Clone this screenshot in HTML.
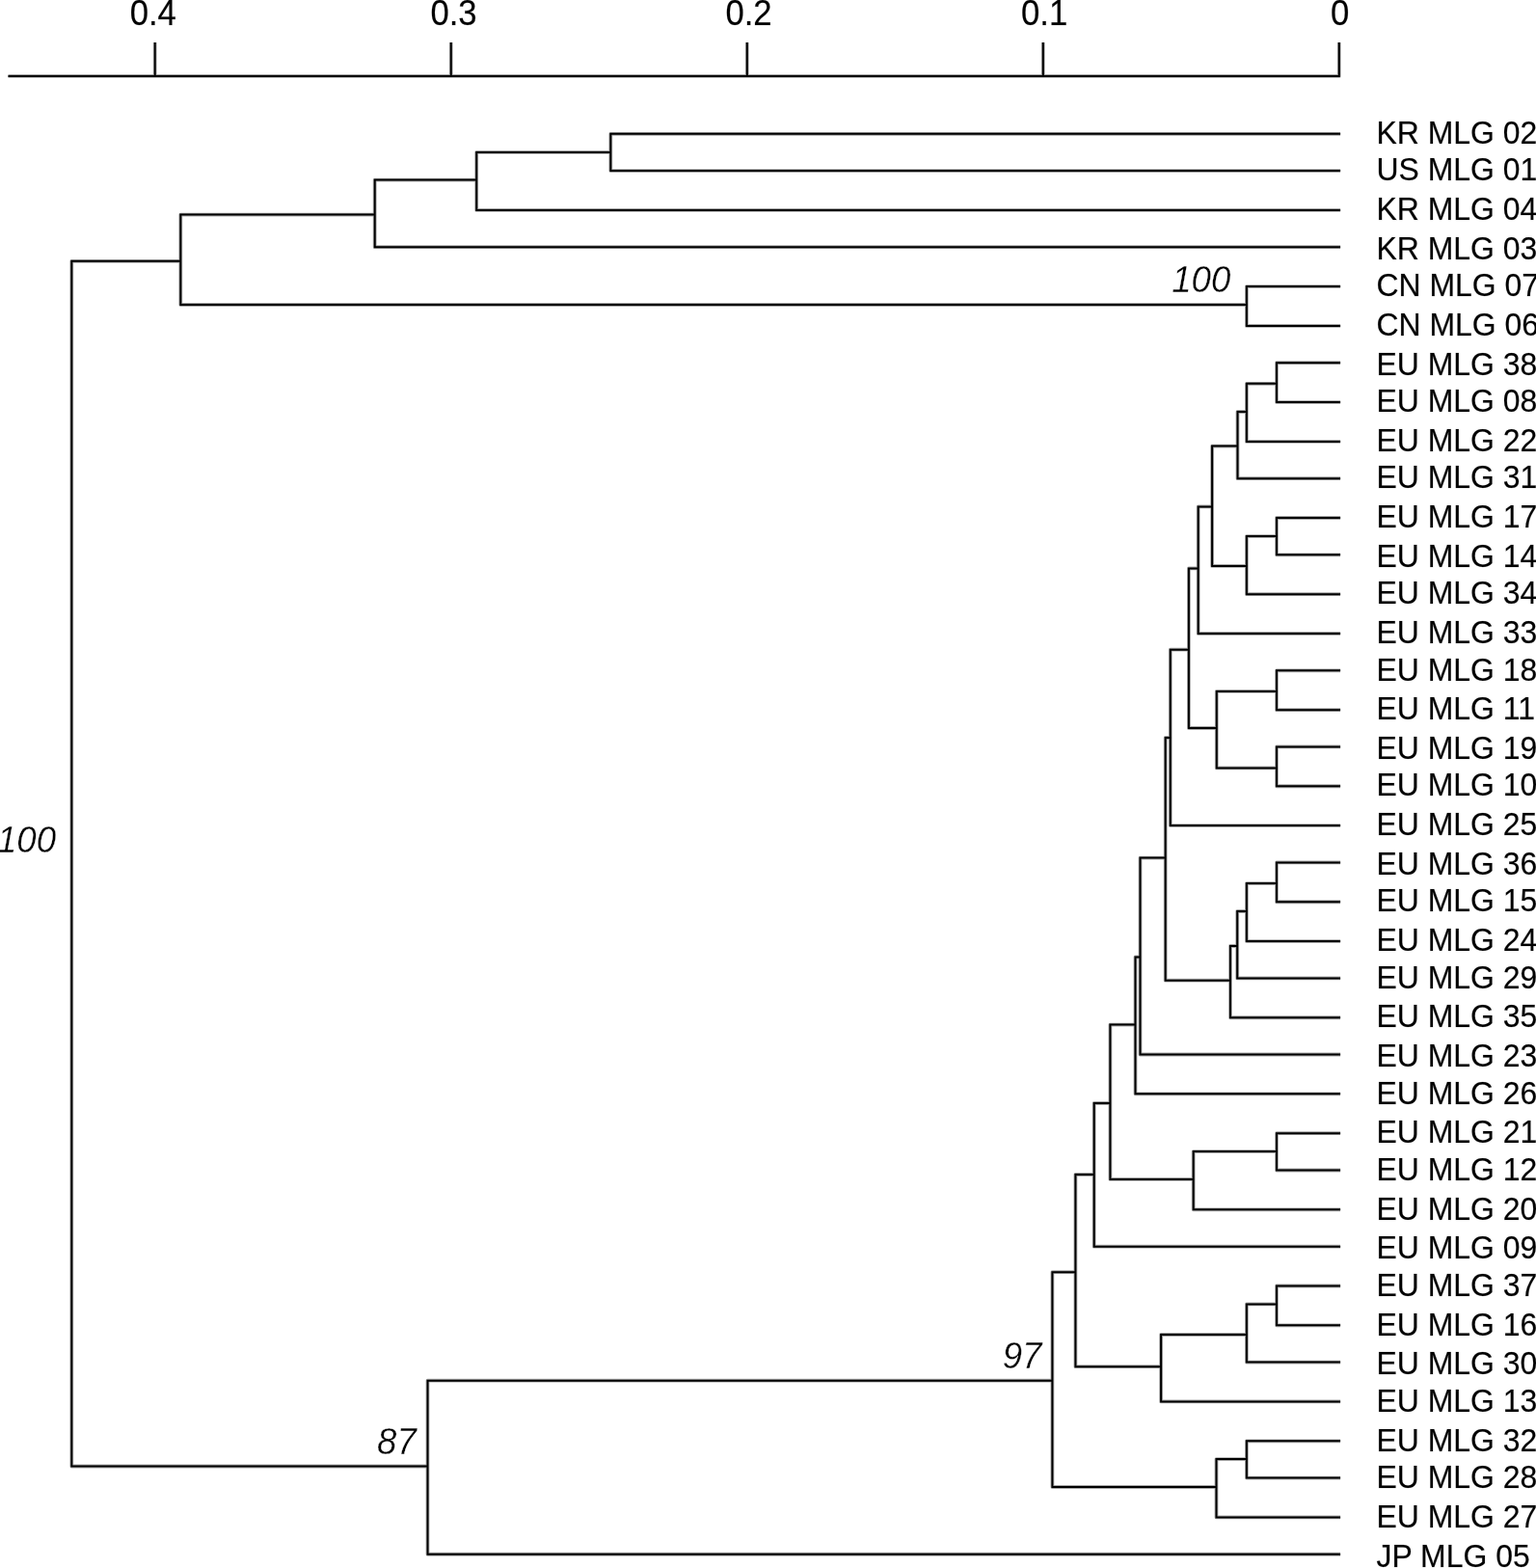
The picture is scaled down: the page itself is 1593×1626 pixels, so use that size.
<!DOCTYPE html>
<html lang="en"><head><meta charset="utf-8"><title>UPGMA dendrogram of multilocus genotypes</title>
<style>
html,body{margin:0;padding:0;background:#fff;}
body{width:1593px;height:1626px;overflow:hidden;}
svg{display:block;}
text{font-family:"Liberation Sans",sans-serif;fill:#000;}
.lf{font-size:33.8px;}
.ax{font-size:36.4px;text-anchor:middle;}
.nd{font-size:39.0px;font-style:italic;text-anchor:end;stroke:#fff;stroke-width:0.35px;paint-order:fill stroke;}
.ln{fill:none;stroke:#000;stroke-width:2.0;stroke-linecap:butt;stroke-linejoin:miter;}
.soft{stroke-width:3.8;stroke-opacity:0.35;stroke-linejoin:round;}
.lf,.ax{stroke:#000;stroke-opacity:0.3;stroke-width:0.6px;}
</style></head><body>
<svg width="1593" height="1626" viewBox="0 0 1593 1626">
<rect width="1593" height="1626" fill="#fff"/>
<path class="ln soft" d="M8.50 78.90H1388.80V43.90M160.70 78.90V43.90M467.75 78.90V43.90M774.80 78.90V43.90M1081.80 78.90V43.90M1390.10 138.78H633.30V177.07H1390.10M633.30 157.90H494.20V217.91H1390.10M494.20 186.60H388.70V256.21H1390.10M1390.10 297.05H1292.90V337.90H1390.10M388.70 222.60H187.30V316.00H1292.90M1390.10 376.19H1324.00V417.03H1390.10M1324.00 397.80H1292.90V457.88H1390.10M1292.90 427.00H1283.50V496.17H1390.10M1390.10 537.01H1324.00V575.31H1390.10M1324.00 556.10H1292.90V616.15H1390.10M1283.50 462.60H1257.10V586.90H1292.90M1257.10 525.40H1242.70V657.00H1390.10M1390.10 695.29H1324.00V736.13H1390.10M1390.10 774.42H1324.00V815.27H1390.10M1324.00 716.90H1261.80V796.40H1324.00M1242.70 589.40H1232.90V755.00H1261.80M1232.90 673.70H1213.80V856.11H1390.10M1390.10 894.41H1324.00V935.25H1390.10M1324.00 916.10H1292.90V976.10H1390.10M1292.90 945.00H1283.20V1014.39H1390.10M1283.20 981.00H1276.00V1055.23H1390.10M1213.80 765.00H1208.70V1016.70H1276.00M1208.70 889.60H1182.50V1093.52H1390.10M1182.50 992.50H1177.50V1134.37H1390.10M1390.10 1175.21H1324.00V1213.51H1390.10M1324.00 1194.10H1237.70V1254.35H1390.10M1177.50 1062.60H1151.40V1222.90H1237.70M1151.40 1144.00H1134.70V1292.64H1390.10M1390.10 1333.49H1324.00V1374.33H1390.10M1324.00 1352.40H1292.90V1412.62H1390.10M1292.90 1384.00H1204.10V1453.47H1390.10M1134.70 1218.00H1115.40V1417.20H1204.10M1390.10 1494.31H1292.90V1532.61H1390.10M1292.90 1513.10H1261.50V1573.45H1390.10M1115.40 1319.20H1091.40V1542.00H1261.50M1091.40 1431.70H443.50V1611.74H1390.10M187.30 270.80H74.30V1520.50H443.50"/>
<path class="ln" d="M8.50 78.90H1388.80V43.90M160.70 78.90V43.90M467.75 78.90V43.90M774.80 78.90V43.90M1081.80 78.90V43.90M1390.10 138.78H633.30V177.07H1390.10M633.30 157.90H494.20V217.91H1390.10M494.20 186.60H388.70V256.21H1390.10M1390.10 297.05H1292.90V337.90H1390.10M388.70 222.60H187.30V316.00H1292.90M1390.10 376.19H1324.00V417.03H1390.10M1324.00 397.80H1292.90V457.88H1390.10M1292.90 427.00H1283.50V496.17H1390.10M1390.10 537.01H1324.00V575.31H1390.10M1324.00 556.10H1292.90V616.15H1390.10M1283.50 462.60H1257.10V586.90H1292.90M1257.10 525.40H1242.70V657.00H1390.10M1390.10 695.29H1324.00V736.13H1390.10M1390.10 774.42H1324.00V815.27H1390.10M1324.00 716.90H1261.80V796.40H1324.00M1242.70 589.40H1232.90V755.00H1261.80M1232.90 673.70H1213.80V856.11H1390.10M1390.10 894.41H1324.00V935.25H1390.10M1324.00 916.10H1292.90V976.10H1390.10M1292.90 945.00H1283.20V1014.39H1390.10M1283.20 981.00H1276.00V1055.23H1390.10M1213.80 765.00H1208.70V1016.70H1276.00M1208.70 889.60H1182.50V1093.52H1390.10M1182.50 992.50H1177.50V1134.37H1390.10M1390.10 1175.21H1324.00V1213.51H1390.10M1324.00 1194.10H1237.70V1254.35H1390.10M1177.50 1062.60H1151.40V1222.90H1237.70M1151.40 1144.00H1134.70V1292.64H1390.10M1390.10 1333.49H1324.00V1374.33H1390.10M1324.00 1352.40H1292.90V1412.62H1390.10M1292.90 1384.00H1204.10V1453.47H1390.10M1134.70 1218.00H1115.40V1417.20H1204.10M1390.10 1494.31H1292.90V1532.61H1390.10M1292.90 1513.10H1261.50V1573.45H1390.10M1115.40 1319.20H1091.40V1542.00H1261.50M1091.40 1431.70H443.50V1611.74H1390.10M187.30 270.80H74.30V1520.50H443.50"/>
<g class="ax">
<text transform="translate(158.75 26.00) scale(0.953 1)">0.4</text>
<text transform="translate(470.55 26.00) scale(0.953 1)">0.3</text>
<text transform="translate(776.50 26.00) scale(0.953 1)">0.2</text>
<text transform="translate(1083.15 26.00) scale(0.953 1)">0.1</text>
<text transform="translate(1389.60 26.00) scale(0.953 1)">0</text>
</g>
<g class="lf">
<text transform="translate(1427.50 149.00) scale(0.945 1)">KR MLG 02</text>
<text transform="translate(1427.50 187.00) scale(0.945 1)">US MLG 01</text>
<text transform="translate(1427.50 228.00) scale(0.945 1)">KR MLG 04</text>
<text transform="translate(1427.50 269.00) scale(0.945 1)">KR MLG 03</text>
<text transform="translate(1427.50 307.00) scale(0.945 1)">CN MLG 07</text>
<text transform="translate(1427.50 348.00) scale(0.945 1)">CN MLG 06</text>
<text transform="translate(1427.50 389.00) scale(0.945 1)">EU MLG 38</text>
<text transform="translate(1427.50 427.00) scale(0.945 1)">EU MLG 08</text>
<text transform="translate(1427.50 468.00) scale(0.945 1)">EU MLG 22</text>
<text transform="translate(1427.50 506.00) scale(0.945 1)">EU MLG 31</text>
<text transform="translate(1427.50 547.00) scale(0.945 1)">EU MLG 17</text>
<text transform="translate(1427.50 588.00) scale(0.945 1)">EU MLG 14</text>
<text transform="translate(1427.50 626.00) scale(0.945 1)">EU MLG 34</text>
<text transform="translate(1427.50 667.00) scale(0.945 1)">EU MLG 33</text>
<text transform="translate(1427.50 706.00) scale(0.945 1)">EU MLG 18</text>
<text transform="translate(1427.50 746.00) scale(0.945 1)">EU MLG 11</text>
<text transform="translate(1427.50 787.00) scale(0.945 1)">EU MLG 19</text>
<text transform="translate(1427.50 825.00) scale(0.945 1)">EU MLG 10</text>
<text transform="translate(1427.50 866.00) scale(0.945 1)">EU MLG 25</text>
<text transform="translate(1427.50 907.00) scale(0.945 1)">EU MLG 36</text>
<text transform="translate(1427.50 945.00) scale(0.945 1)">EU MLG 15</text>
<text transform="translate(1427.50 986.00) scale(0.945 1)">EU MLG 24</text>
<text transform="translate(1427.50 1025.00) scale(0.945 1)">EU MLG 29</text>
<text transform="translate(1427.50 1065.00) scale(0.945 1)">EU MLG 35</text>
<text transform="translate(1427.50 1106.00) scale(0.945 1)">EU MLG 23</text>
<text transform="translate(1427.50 1145.00) scale(0.945 1)">EU MLG 26</text>
<text transform="translate(1427.50 1185.00) scale(0.945 1)">EU MLG 21</text>
<text transform="translate(1427.50 1224.00) scale(0.945 1)">EU MLG 12</text>
<text transform="translate(1427.50 1265.00) scale(0.945 1)">EU MLG 20</text>
<text transform="translate(1427.50 1305.00) scale(0.945 1)">EU MLG 09</text>
<text transform="translate(1427.50 1344.00) scale(0.945 1)">EU MLG 37</text>
<text transform="translate(1427.50 1385.00) scale(0.945 1)">EU MLG 16</text>
<text transform="translate(1427.50 1425.00) scale(0.945 1)">EU MLG 30</text>
<text transform="translate(1427.50 1464.00) scale(0.945 1)">EU MLG 13</text>
<text transform="translate(1427.50 1505.00) scale(0.945 1)">EU MLG 32</text>
<text transform="translate(1427.50 1543.00) scale(0.945 1)">EU MLG 28</text>
<text transform="translate(1427.50 1584.00) scale(0.945 1)">EU MLG 27</text>
<text transform="translate(1427.50 1625.00) scale(0.945 1)">JP MLG 05</text>
</g>
<g class="nd">
<text transform="translate(1276.30 303.00) scale(0.94 1)">100</text>
<text transform="translate(58.10 884.00) scale(0.94 1)">100</text>
<text transform="translate(1080.40 1419.00) scale(0.94 1)">97</text>
<text transform="translate(431.80 1508.00) scale(0.94 1)">87</text>
</g>
</svg>
</body></html>
